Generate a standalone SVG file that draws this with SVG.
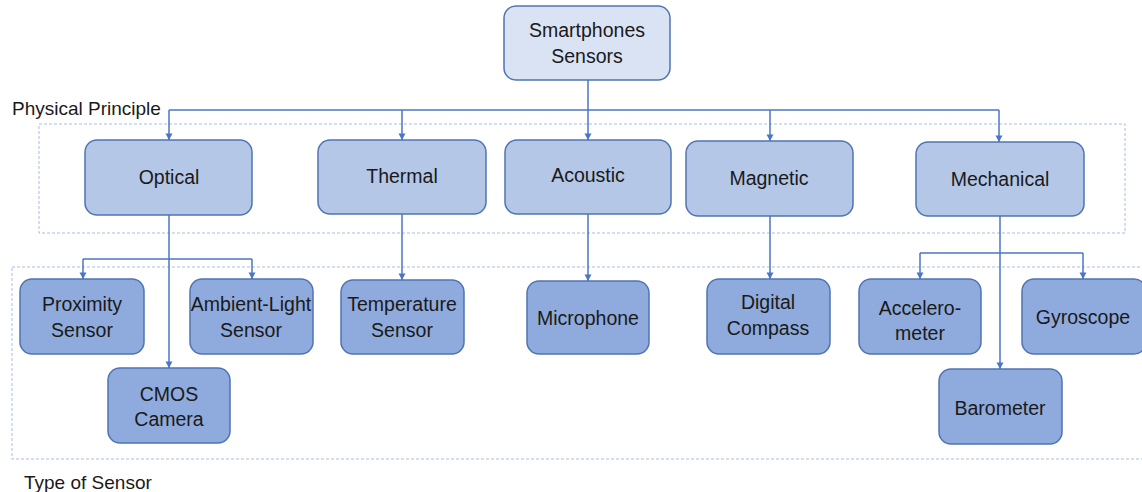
<svg xmlns="http://www.w3.org/2000/svg" width="1142" height="492" viewBox="0 0 1142 492">
  <style>
    .root { fill: #dae3f3; stroke: #4f74b3; stroke-width: 1.5; }
    .l1 { fill: #b4c7e7; stroke: #4f74b3; stroke-width: 1.5; }
    .l2 { fill: #8faadc; stroke: #4f74b3; stroke-width: 1.5; }
    .group { fill: none; stroke: #a9bde3; stroke-width: 1; stroke-dasharray: 3 2; }
    .wire { fill: none; stroke: #4a76c6; stroke-width: 1.5; }
    .arrow { marker-end: url(#head); }
    text { font-family: "Liberation Sans", Arial, sans-serif; font-size: 19.5px; fill: #1a1a1a; text-anchor: middle; }
    .caption { font-size: 19px; text-anchor: start; }
  </style>
  <defs>
    <marker id="head" markerWidth="8" markerHeight="7" refX="4" refY="7" orient="0" markerUnits="userSpaceOnUse" viewBox="0 0 8 7">
      <path d="M0.5,0.5 L7.5,0.5 L4,7 z" fill="#4a76c6"/>
    </marker>
  </defs>
  <rect width="1142" height="492" fill="#ffffff"/>

  <!-- grouping frames -->
  <rect class="group" x="39" y="124" width="1086" height="109"/>
  <rect class="group" x="12" y="267" width="1140" height="192"/>
  <text class="caption" x="12" y="115">Physical Principle</text>
  <text class="caption" x="24" y="489">Type of Sensor</text>

  <!-- connectors -->
  <g id="connectors">
    <path class="wire" d="M588,80 V110"/>
    <path class="wire" d="M169,110 H999"/>
    <path class="wire arrow" d="M169,110 V140"/>
    <path class="wire arrow" d="M402,110 V140"/>
    <path class="wire arrow" d="M588,110 V140"/>
    <path class="wire arrow" d="M770,110 V141"/>
    <path class="wire arrow" d="M999,110 V142"/>

    <path class="wire arrow" d="M169,215 V368"/>
    <path class="wire" d="M83,259 H252"/>
    <path class="wire arrow" d="M83,259 V279"/>
    <path class="wire arrow" d="M252,259 V279"/>

    <path class="wire arrow" d="M402,214 V280"/>
    <path class="wire arrow" d="M588,214 V281"/>
    <path class="wire arrow" d="M770,216 V279"/>

    <path class="wire arrow" d="M1000,216 V369"/>
    <path class="wire" d="M920,253 H1083"/>
    <path class="wire arrow" d="M920,253 V279"/>
    <path class="wire arrow" d="M1083,253 V279"/>
  </g>

  <!-- root -->
  <g id="smartphones-sensors">
    <rect class="root" x="504" y="6" width="166" height="74" rx="12"/>
    <text x="587" y="37">Smartphones</text>
    <text x="587" y="63">Sensors</text>
  </g>

  <!-- physical principles -->
  <g id="optical">
    <rect class="l1" x="85" y="140" width="167" height="75" rx="12"/>
    <text x="169" y="184">Optical</text>
  </g>
  <g id="thermal">
    <rect class="l1" x="318" y="140" width="168" height="74" rx="12"/>
    <text x="402" y="183">Thermal</text>
  </g>
  <g id="acoustic">
    <rect class="l1" x="505" y="140" width="166" height="74" rx="12"/>
    <text x="588" y="182">Acoustic</text>
  </g>
  <g id="magnetic">
    <rect class="l1" x="686" y="141" width="167" height="75" rx="12"/>
    <text x="769" y="185">Magnetic</text>
  </g>
  <g id="mechanical">
    <rect class="l1" x="916" y="142" width="168" height="74" rx="12"/>
    <text x="1000" y="186">Mechanical</text>
  </g>

  <!-- sensor types -->
  <g id="proximity-sensor">
    <rect class="l2" x="20" y="279" width="124" height="75" rx="12"/>
    <text x="82" y="311">Proximity</text>
    <text x="82" y="337">Sensor</text>
  </g>
  <g id="ambient-light-sensor">
    <rect class="l2" x="190" y="279" width="123" height="75" rx="12"/>
    <text x="251" y="311">Ambient-Light</text>
    <text x="251" y="337">Sensor</text>
  </g>
  <g id="cmos-camera">
    <rect class="l2" x="108" y="368" width="122" height="75" rx="12"/>
    <text x="169" y="401">CMOS</text>
    <text x="169" y="426">Camera</text>
  </g>
  <g id="temperature-sensor">
    <rect class="l2" x="341" y="280" width="123" height="74" rx="12"/>
    <text x="402" y="311">Temperature</text>
    <text x="402" y="337">Sensor</text>
  </g>
  <g id="microphone">
    <rect class="l2" x="527" y="281" width="122" height="73" rx="12"/>
    <text x="588" y="325">Microphone</text>
  </g>
  <g id="digital-compass">
    <rect class="l2" x="707" y="279" width="123" height="75" rx="12"/>
    <text x="768" y="309">Digital</text>
    <text x="768" y="335">Compass</text>
  </g>
  <g id="accelerometer">
    <rect class="l2" x="859" y="279" width="122" height="75" rx="12"/>
    <text x="920" y="315">Accelero-</text>
    <text x="920" y="340">meter</text>
  </g>
  <g id="gyroscope">
    <rect class="l2" x="1022" y="279" width="124" height="75" rx="12"/>
    <text x="1083" y="324">Gyroscope</text>
  </g>
  <g id="barometer">
    <rect class="l2" x="939" y="369" width="123" height="75" rx="12"/>
    <text x="1000" y="415">Barometer</text>
  </g>
</svg>
